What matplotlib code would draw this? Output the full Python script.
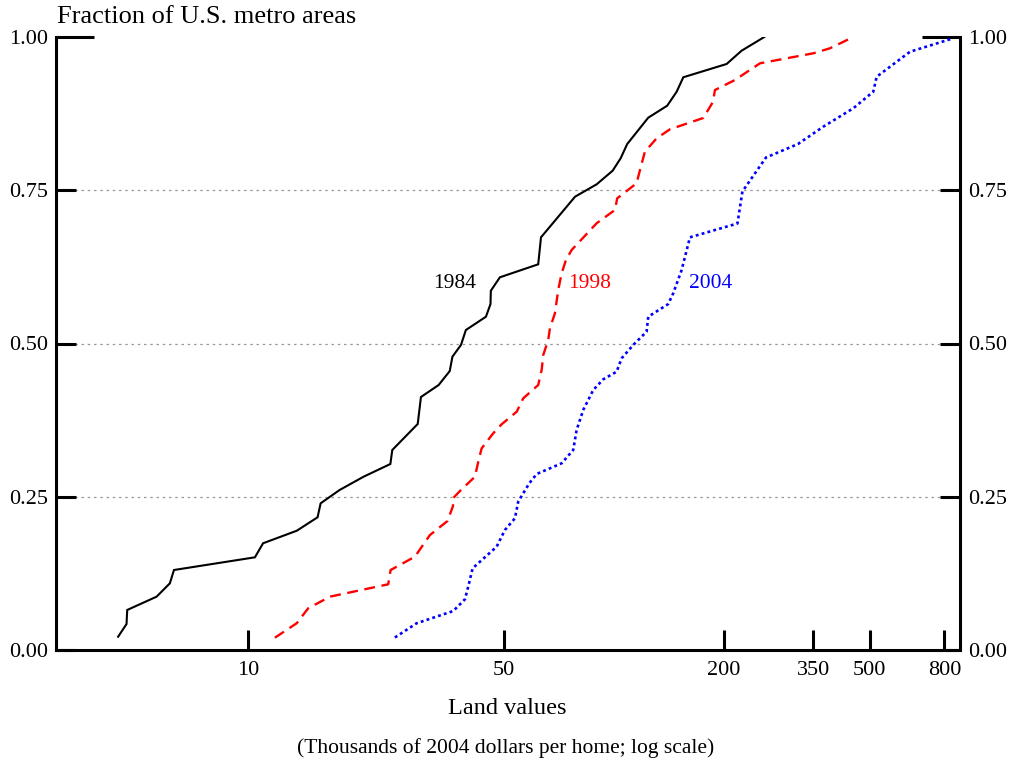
import matplotlib
matplotlib.use("Agg")
import matplotlib.pyplot as plt
from matplotlib.ticker import FixedLocator, NullLocator

plt.rcParams['font.family'] = ['Liberation Serif', 'DejaVu Serif']

# ---- data (land value in thousands of 2004 $, cumulative fraction) ----
x1984 = [4.42, 4.66, 4.68, 5.63, 6.12, 6.28, 10.45, 11.0, 13.6, 15.5, 15.8, 17.8,
         20.7, 24.5, 24.8, 29.1, 29.7, 33.2, 35.6, 36.2, 38.2, 39.4, 44.7, 46.0,
         46.1, 48.8, 62.1, 63.2, 78.3, 89.7, 99.2, 104.3, 108.7, 124.1, 139.8,
         148.4, 154.7, 203.2, 223.3, 257.5]
y1984 = [0.0217, 0.0424, 0.0653, 0.0870, 0.1088, 0.1305, 0.1512, 0.1741, 0.1946,
         0.2165, 0.2393, 0.2610, 0.2827, 0.3034, 0.3263, 0.3687, 0.4127, 0.4323,
         0.4551, 0.4785, 0.4976, 0.5220, 0.5437, 0.5644, 0.5861, 0.6080, 0.6292,
         0.6732, 0.7395, 0.7597, 0.7819, 0.8021, 0.8254, 0.8684, 0.8879, 0.9108,
         0.9343, 0.9560, 0.9777, 1.0000]

x1998 = [11.85, 13.59, 14.61, 16.75, 24.17, 24.54, 28.59, 31.43, 35.09, 36.33,
         36.4, 37.96, 41.72, 42.59, 43.51, 46.79, 49.33, 54.24, 56.53, 62.11,
         63.46, 64.10, 66.14, 66.85, 68.99, 70.43, 71.96, 73.94, 76.63, 89.67,
         100.6, 102.1, 115.3, 117.8, 121.5, 130.8, 142.2, 175.4, 186.4, 188.8,
         214.1, 250.6, 350.4, 389.3, 450.7]
y1998 = [0.0201, 0.0436, 0.0680, 0.0870, 0.1072, 0.1305, 0.1522, 0.1876, 0.2104,
         0.2349, 0.2480, 0.2594, 0.2827, 0.3072, 0.3290, 0.3535, 0.3682, 0.3887,
         0.4106, 0.4323, 0.4568, 0.4812, 0.5057, 0.5248, 0.5493, 0.5873, 0.6145,
         0.6362, 0.6525, 0.6961, 0.7178, 0.7369, 0.7613, 0.7830, 0.8129, 0.8347,
         0.8494, 0.8679, 0.8940, 0.9135, 0.9299, 0.9571, 0.9734, 0.9816, 1.0000]

x2004 = [25.21, 28.90, 36.39, 39.16, 39.98, 41.11, 47.81, 50.37, 53.63, 54.76,
         58.70, 61.50, 71.96, 77.40, 79.08, 82.43, 87.79, 93.50, 101.7, 105.0,
         112.9, 122.8, 124.1, 140.7, 145.2, 153.1, 161.3, 217.5, 224.4, 260.2,
         318.2, 373.2, 450.7, 511.1, 522.2, 644.1, 845.3]
y2004 = [0.0204, 0.0436, 0.0636, 0.0827, 0.1033, 0.1333, 0.1685, 0.1958, 0.2148,
         0.2419, 0.2719, 0.2871, 0.3046, 0.3263, 0.3589, 0.3915, 0.4241, 0.4416,
         0.4540, 0.4759, 0.4976, 0.5193, 0.5437, 0.5644, 0.5819, 0.6199, 0.6732,
         0.6958, 0.7480, 0.8034, 0.8254, 0.8537, 0.8837, 0.9108, 0.9352, 0.9760,
         0.9979]

series_labels = ["1984", "1998", "2004"]
label_x = [36.8, 86.0, 184.0]
label_y = [0.598, 0.598, 0.598]

xtick_vals = [10, 50, 200, 350, 500, 800]
xtick_labels = ["10", "50", "200", "350", "500", "800"]
ytick_vals = [0.0, 0.25, 0.5, 0.75, 1.0]
ytick_labels = ["0.00", "0.25", "0.50", "0.75", "1.00"]

# ---- figure ----
fig = plt.figure(figsize=(10.10, 7.63), dpi=100)
ax = fig.add_axes([56 / 1010, 1 - 650 / 763, (960 - 56) / 1010, (650 - 37) / 763])

ax.plot(x1984, y1984, color='black', lw=1.5, solid_joinstyle='miter')
ax.plot(x1998, y1998, color='#ff0000', lw=1.7, linestyle=(0, (4.6, 2.8)))
ax.plot(x2004, y2004, color='#0000ff', lw=1.9, linestyle=(0, (1.1, 1.2)))

colors = ['black', '#ff0000', '#0000ff']
for lab, lx, ly, c in zip(series_labels, label_x, label_y, colors):
    ax.text(lx, ly, lab, color=c, fontsize=15.5, ha='center', va='center')

ax.set_xscale('log')
ax.set_xlim(2.99, 882)
ax.set_ylim(0, 1)

ax.xaxis.set_major_locator(FixedLocator(xtick_vals))
ax.xaxis.set_minor_locator(NullLocator())
ax.set_xticklabels(xtick_labels)
ax.set_yticks(ytick_vals)
ax.set_yticklabels(ytick_labels)

ax.tick_params(axis='x', direction='in', length=14.4, width=2.2, labelsize=16, pad=8)
ax.tick_params(axis='y', direction='in', length=14.4, width=2.2, labelsize=16, pad=6,
               left=True, right=True, labelleft=True, labelright=True)

# longer tick at 1.00
for t in ax.yaxis.get_major_ticks():
    if abs(t.get_loc() - 1.0) < 1e-9:
        t.tick1line.set_markersize(27.4)
        t.tick2line.set_markersize(27.4)

ax.grid(axis='y', color='#999999', linestyle=(0, (2, 3)), linewidth=0.9)
for t in ax.yaxis.get_major_ticks():
    if t.get_loc() in (0.0, 1.0):
        t.gridline.set_visible(False)

for s in ['left', 'right', 'bottom']:
    ax.spines[s].set_linewidth(2.2)
ax.spines['top'].set_visible(False)

fig.text(57 / 1010, 1 - 17 / 763, "Fraction of U.S. metro areas", fontsize=19,
         ha='left', va='center')
fig.text(507 / 1010, 1 - 709 / 763, "Land values", fontsize=17.5, ha='center', va='center')
fig.text(506 / 1010, 1 - 748 / 763, "(Thousands of 2004 dollars per home; log scale)",
         fontsize=15.5, ha='center', va='center')

fig.savefig("out.png", dpi=100)
